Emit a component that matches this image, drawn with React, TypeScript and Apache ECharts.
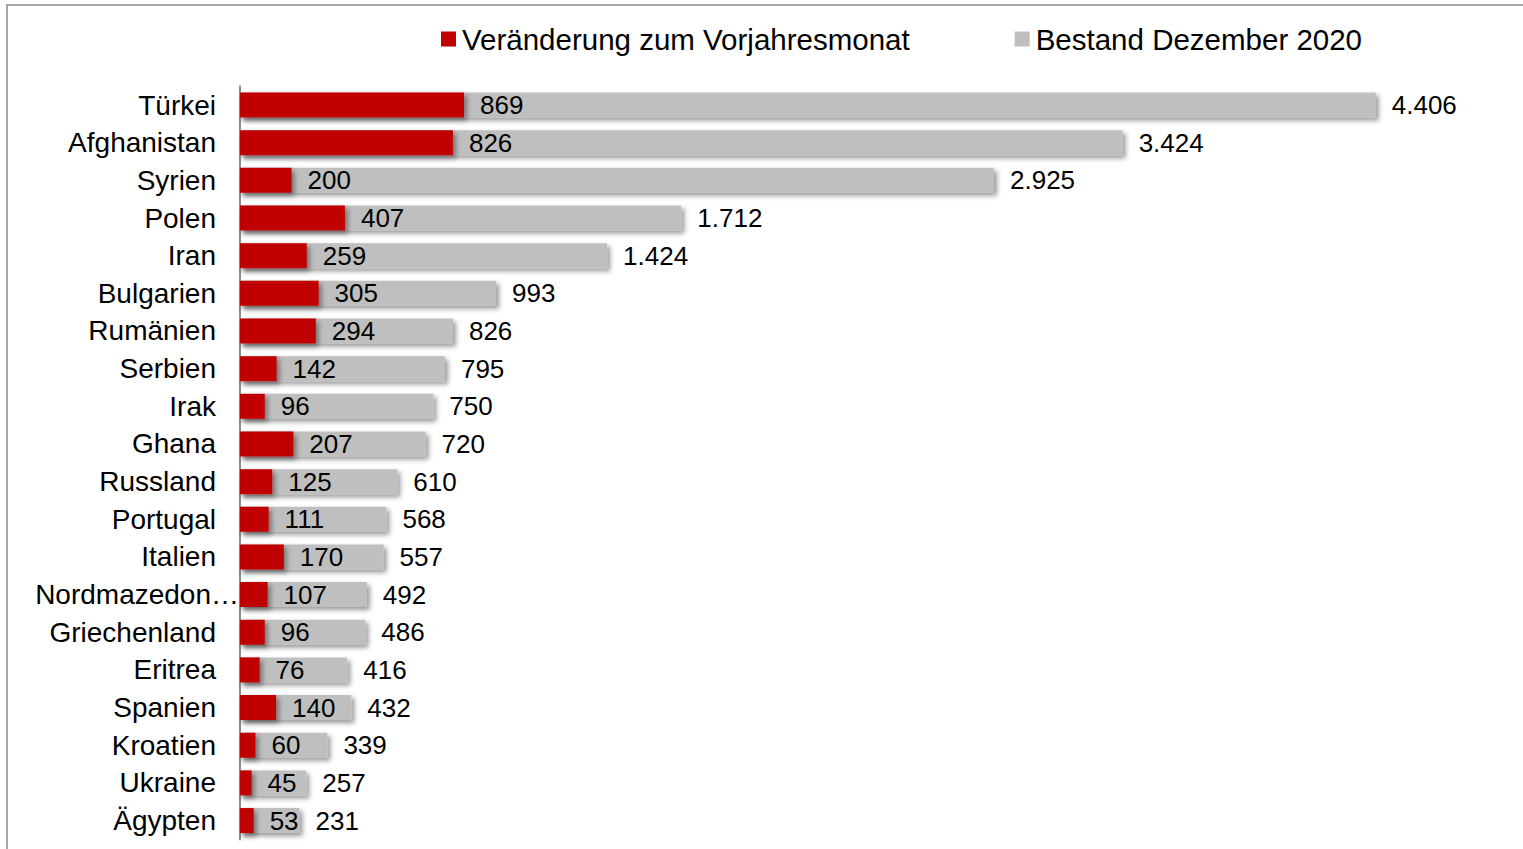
import React, { useEffect, useRef } from "react";
import * as echarts from "echarts";

const countries = [
  "Türkei", "Afghanistan", "Syrien", "Polen", "Iran", "Bulgarien", "Rumänien", "Serbien",
  "Irak", "Ghana", "Russland", "Portugal", "Italien", "Nordmazedonien", "Griechenland",
  "Eritrea", "Spanien", "Kroatien", "Ukraine", "Ägypten",
];
const veraenderung = [869, 826, 200, 407, 259, 305, 294, 142, 96, 207, 125, 111, 170, 107, 96, 76, 140, 60, 45, 53];
const bestand = [4406, 3424, 2925, 1712, 1424, 993, 826, 795, 750, 720, 610, 568, 557, 492, 486, 416, 432, 339, 257, 231];

const seriesNames = ["Veränderung zum Vorjahresmonat", "Bestand Dezember 2020"];

const FONT = "'Liberation Sans', Arial, sans-serif";
const fmt = (v: number) => String(v).replace(/\B(?=(\d{3})+(?!\d))/g, ".");

export default function App() {
  const ref = useRef<HTMLDivElement>(null);
  useEffect(() => {
    if (!ref.current) return;
    const chart = echarts.init(ref.current, null, { renderer: "svg" });
    const shadow = {
      shadowColor: "rgba(0,0,0,0.4)",
      shadowBlur: 5,
      shadowOffsetX: 3,
      shadowOffsetY: 3,
    };
    chart.setOption({
      animation: false,
      backgroundColor: "#ffffff",
      textStyle: { fontFamily: FONT },
      graphic: [
        {
          type: "rect",
          shape: { x: 7, y: 5, width: 1700, height: 1000 },
          style: { fill: "none", stroke: "#a6a6a6", lineWidth: 2 },
          silent: true,
          z: -10,
        },
      ],
      legend: {
        data: [
          { name: seriesNames[0], icon: "rect" },
          { name: seriesNames[1], icon: "rect" },
        ],
        left: 436,
        top: 19,
        itemWidth: 15,
        itemHeight: 15,
        itemGap: 105,
        textStyle: { fontSize: 29.5, color: "#000", fontFamily: FONT, padding: [0, 0, 0, 1] },
      },
      grid: { left: 240, top: 86.2, width: 1160, height: 753.2, containLabel: false },
      xAxis: {
        type: "value",
        min: 0,
        max: 4500,
        show: false,
      },
      yAxis: {
        type: "category",
        data: countries,
        inverse: true,
        axisLine: { show: true, lineStyle: { color: "#8c8c8c", width: 2 } },
        axisTick: { show: false },
        axisLabel: {
          fontSize: 28,
          color: "#000",
          fontFamily: FONT,
          margin: 1,
          width: 206,
          overflow: "truncate",
          ellipsis: "…",
          formatter: (name: string) => (name.length > 13 ? `{b|${name}}` : `{a|${name}}`),
          rich: {
            a: { fontSize: 28, color: "#000", fontFamily: FONT, padding: [0, 23, 0, 0] },
            b: { fontSize: 28, color: "#000", fontFamily: FONT },
          },
        },
      },
      series: [
        {
          name: seriesNames[1],
          type: "bar",
          data: bestand,
          barWidth: 25,
          itemStyle: { color: "#bfbfbf", ...shadow },
          label: {
            show: true,
            position: "right",
            distance: 16,
            fontSize: 26,
            color: "#000",
            fontFamily: FONT,
            formatter: (p: any) => fmt(p.value),
          },
          z: 2,
        },
        {
          name: seriesNames[0],
          type: "bar",
          data: veraenderung,
          barWidth: 25,
          barGap: "-100%",
          itemStyle: { color: "#c00000", ...shadow },
          label: {
            show: true,
            position: "right",
            distance: 16,
            fontSize: 26,
            color: "#000",
            fontFamily: FONT,
            formatter: (p: any) => fmt(p.value),
          },
          z: 3,
        },
      ],
    });
    return () => chart.dispose();
  }, []);
  return (
    <div
      ref={ref}
      style={{ position: "fixed", left: 0, top: 0, width: 1523, height: 849 }}
    />
  );
}
